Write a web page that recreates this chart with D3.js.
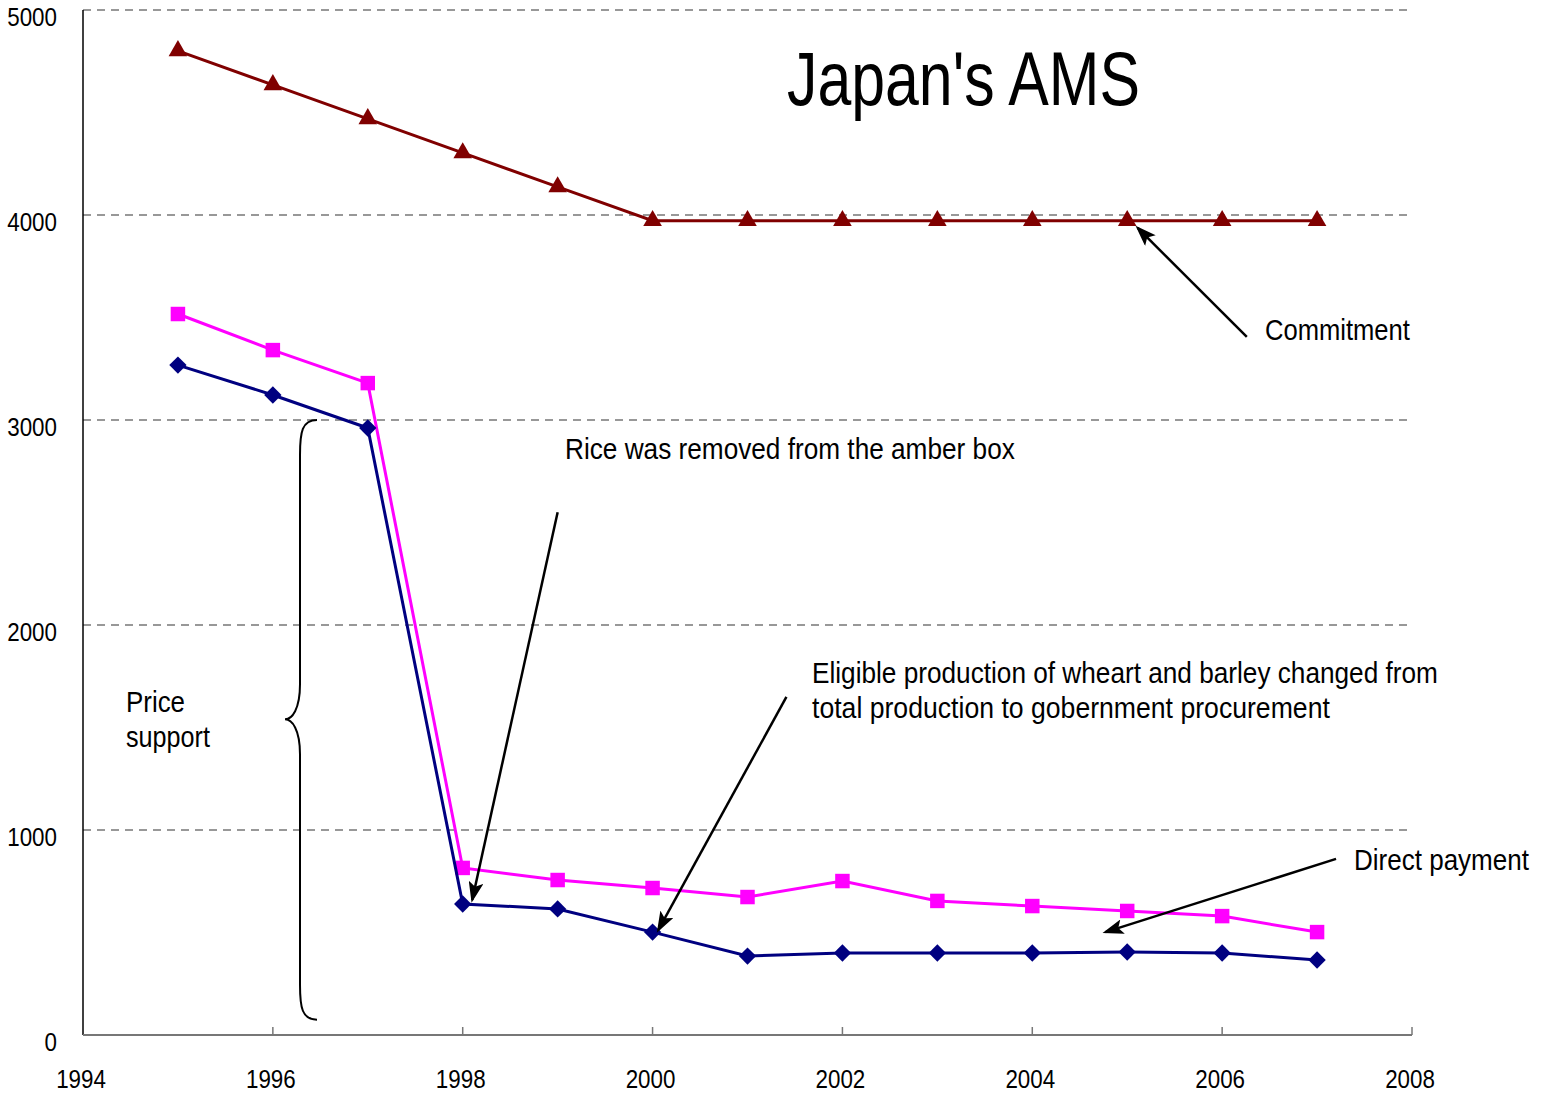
<!DOCTYPE html>
<meta charset="utf-8">
<style>
body { margin: 0; background: #fff; }
text { font-family: "Liberation Sans", Arial, sans-serif; fill: #000; }
</style>
<svg width="1543" height="1102"></svg>
<script src="https://d3js.org/d3.v7.min.js"></script>
<script>

// data (billion yen)
var years = [1995, 1996, 1997, 1998, 1999, 2000, 2001, 2002, 2003, 2004, 2005, 2006, 2007];
var commitment = [4801, 4635, 4469, 4303, 4137, 3972, 3972, 3972, 3972, 3972, 3972, 3972, 3972];
var totalAms = [3517, 3341, 3180, 815, 756, 717, 673, 751, 654, 629, 605, 580, 502];
var priceSupport = [3268, 3122, 2961, 639, 615, 502, 385, 400, 400, 400, 405, 400, 366];
var xTicks = [1994, 1996, 1998, 2000, 2002, 2004, 2006, 2008];
var yTicks = [0, 1000, 2000, 3000, 4000, 5000];

var svg = d3.select("svg");

var x = d3.scaleLinear().domain([1994, 2008]).range([83, 1412]);
var y = d3.scaleLinear().domain([0, 5000]).range([1035, 10]);

// squeeze text horizontally like the original narrow font
function squeeze(sel, f) {
  sel.each(function() {
    var len = this.getComputedTextLength();
    d3.select(this).attr("textLength", len * f).attr("lengthAdjust", "spacingAndGlyphs");
  });
}

// grid
svg.append("g").selectAll("line")
    .data(yTicks.filter(function(d) { return d > 0; }))
    .enter().append("line")
    .attr("x1", x(1994)).attr("x2", x(2008))
    .attr("y1", function(d) { return y(d); }).attr("y2", function(d) { return y(d); })
    .attr("stroke", "#777").attr("stroke-width", 1.3).attr("stroke-dasharray", "8,6");

// axes
svg.append("line").attr("x1", x(1994)).attr("x2", x(1994)).attr("y1", y(5000)).attr("y2", y(0))
    .attr("stroke", "#000").attr("stroke-width", 1.5);
svg.append("line").attr("x1", x(1994)).attr("x2", x(2008)).attr("y1", y(0)).attr("y2", y(0))
    .attr("stroke", "#777").attr("stroke-width", 2);
svg.append("g").selectAll("line").data(xTicks.slice(1))
    .enter().append("line")
    .attr("x1", function(d) { return x(d); }).attr("x2", function(d) { return x(d); })
    .attr("y1", y(0)).attr("y2", y(0) - 8)
    .attr("stroke", "#777").attr("stroke-width", 1.5);

svg.append("g").selectAll("text").data(xTicks)
    .enter().append("text")
    .attr("x", function(d) { return x(d) - 2; })
    .attr("y", 1088)
    .attr("text-anchor", "middle")
    .attr("font-size", 26)
    .text(function(d) { return d; })
    .call(squeeze, 0.86);

svg.append("g").selectAll("text").data(yTicks)
    .enter().append("text")
    .attr("x", 57)
    .attr("y", function(d) { return y(d) + 16; })
    .attr("text-anchor", "end")
    .attr("font-size", 26)
    .text(function(d) { return d; })
    .call(squeeze, 0.86);

// series
var series = [
  { values: commitment, color: "#800000", symbol: d3.symbolTriangle, size: 150, rot: 0 },
  { values: totalAms, color: "#FF00FF", symbol: d3.symbolSquare, size: 210, rot: 0 },
  { values: priceSupport, color: "#000080", symbol: d3.symbolSquare, size: 150, rot: 45 }
];

var line = d3.line()
    .x(function(d, i) { return x(years[i]); })
    .y(function(d) { return y(d); });

series.forEach(function(s) {
  svg.append("path")
      .attr("d", line(s.values))
      .attr("fill", "none")
      .attr("stroke", s.color)
      .attr("stroke-width", 3);
  svg.append("g").selectAll("path").data(s.values)
      .enter().append("path")
      .attr("d", d3.symbol().type(s.symbol).size(s.size))
      .attr("transform", function(d, i) {
        return "translate(" + x(years[i]) + "," + y(d) + ") rotate(" + s.rot + ")";
      })
      .attr("fill", s.color);
});

// title
svg.append("text")
    .attr("x", 787).attr("y", 105)
    .attr("font-size", 76)
    .attr("textLength", 353).attr("lengthAdjust", "spacingAndGlyphs")
    .text("Japan's AMS");

// annotations (narrowed with a horizontal scale so each fits its width)
var notes = [
  { text: "Commitment", x: 1265, y: 340, w: 145 },
  { text: "Rice was removed from the amber box", x: 565, y: 459, w: 450 },
  { text: "Eligible production of wheart and barley changed from", x: 812, y: 683, w: 626 },
  { text: "total production to gobernment procurement", x: 812, y: 718, w: 518 },
  { text: "Direct payment", x: 1354, y: 870, w: 175 },
  { text: "Price", x: 126, y: 712, w: 59 },
  { text: "support", x: 126, y: 747, w: 84 }
];
svg.append("g").selectAll("text").data(notes)
    .enter().append("text")
    .attr("font-size", 29)
    .text(function(d) { return d.text; })
    .each(function(d) {
      var k = d.w / this.getComputedTextLength();
      d3.select(this).attr("transform", "translate(" + d.x + "," + d.y + ") scale(" + k + ",1)");
    });

// arrows, in data units: [from year, from value, to year, to value]
var arrows = [
  [2006.26, 3405, 2005.11, 3937],
  [1999.0, 2550, 1998.1, 659],
  [2001.41, 1649, 2000.06, 512],
  [2007.2, 859, 2004.77, 502]
];

svg.append("defs").append("marker")
    .attr("id", "head")
    .attr("viewBox", "0 0 14 10")
    .attr("refX", 12).attr("refY", 5)
    .attr("markerWidth", 8.5).attr("markerHeight", 6)
    .attr("markerUnits", "strokeWidth")
    .attr("orient", "auto")
  .append("path")
    .attr("d", "M0,0 L14,5 L0,10 L3,5 Z")
    .attr("fill", "#000");

svg.append("g").selectAll("line").data(arrows)
    .enter().append("line")
    .attr("x1", function(d) { return x(d[0]); })
    .attr("y1", function(d) { return y(d[1]); })
    .attr("x2", function(d) { return x(d[2]); })
    .attr("y2", function(d) { return y(d[3]); })
    .attr("stroke", "#000")
    .attr("stroke-width", 2.5)
    .attr("marker-end", "url(#head)");

// brace for price support
var bx = 300, bTop = y(3000), bBot = y(75), bMid = y(1540);
var brace = d3.path();
brace.moveTo(bx + 17, bTop);
brace.bezierCurveTo(bx + 2, bTop, bx, bTop + 12, bx, bTop + 35);
brace.lineTo(bx, bMid - 35);
brace.bezierCurveTo(bx, bMid - 10, bx - 8, bMid, bx - 15, bMid);
brace.bezierCurveTo(bx - 8, bMid, bx, bMid + 10, bx, bMid + 35);
brace.lineTo(bx, bBot - 35);
brace.bezierCurveTo(bx, bBot - 12, bx + 2, bBot, bx + 17, bBot);
svg.append("path")
    .attr("d", brace.toString())
    .attr("fill", "none")
    .attr("stroke", "#000")
    .attr("stroke-width", 2);

</script>
